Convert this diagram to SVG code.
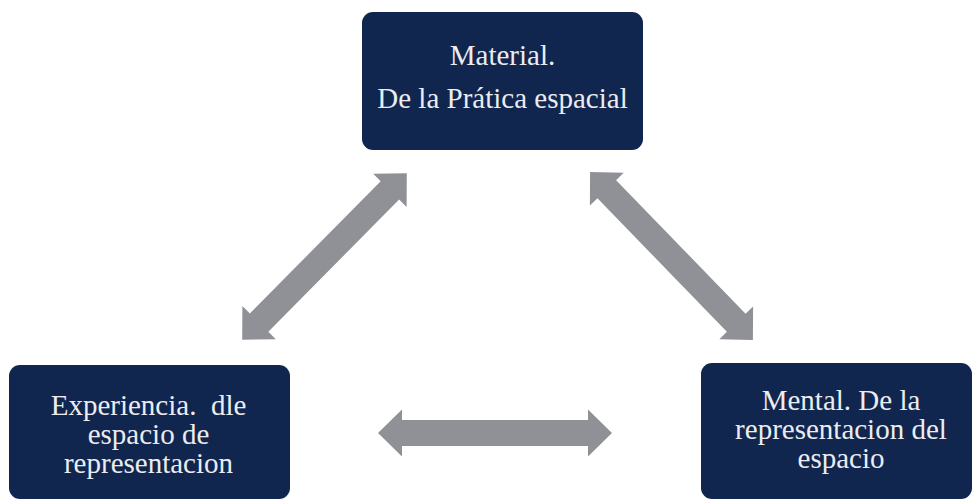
<svg xmlns="http://www.w3.org/2000/svg" width="974" height="501" viewBox="0 0 974 501">
<style>
.box{fill:#10264f;}
.lbl{font-family:"Liberation Serif","Times New Roman",serif;font-size:29px;fill:#ececf0;text-anchor:middle;}
.arr{fill:#8f9197;}
</style>
<defs>
<path id="dbl" d="M -117 0 L -93 -23.5 L -93 -13 L 93 -13 L 93 -23.5 L 117 0 L 93 23.5 L 93 13 L -93 13 L -93 23.5 Z"/>
</defs>
<rect width="974" height="501" fill="#ffffff"/>
<g id="connectors" class="arr">
<use href="#dbl" transform="translate(324.5,256.5) rotate(-45.3)"/>
<use href="#dbl" transform="translate(671.5,256) rotate(45.9)"/>
<use href="#dbl" transform="translate(495,433)"/>
</g>
<g id="node-material">
<rect class="box" x="362" y="12" width="281" height="138" rx="11"/>
<text class="lbl" x="502.5" y="65">Material.</text>
<text class="lbl" x="502.5" y="108">De la Prática espacial</text>
</g>
<g id="node-experiencia">
<rect class="box" x="9" y="365" width="281" height="134" rx="11"/>
<text class="lbl" x="148.5" y="415">Experiencia.&#160; dle</text>
<text class="lbl" x="148.5" y="444">espacio de</text>
<text class="lbl" x="148.5" y="473">representacion</text>
</g>
<g id="node-mental">
<rect class="box" x="701" y="363" width="271" height="136" rx="11"/>
<text class="lbl" x="841" y="410">Mental. De la</text>
<text class="lbl" x="841" y="439">representacion del</text>
<text class="lbl" x="841" y="468">espacio</text>
</g>
</svg>
